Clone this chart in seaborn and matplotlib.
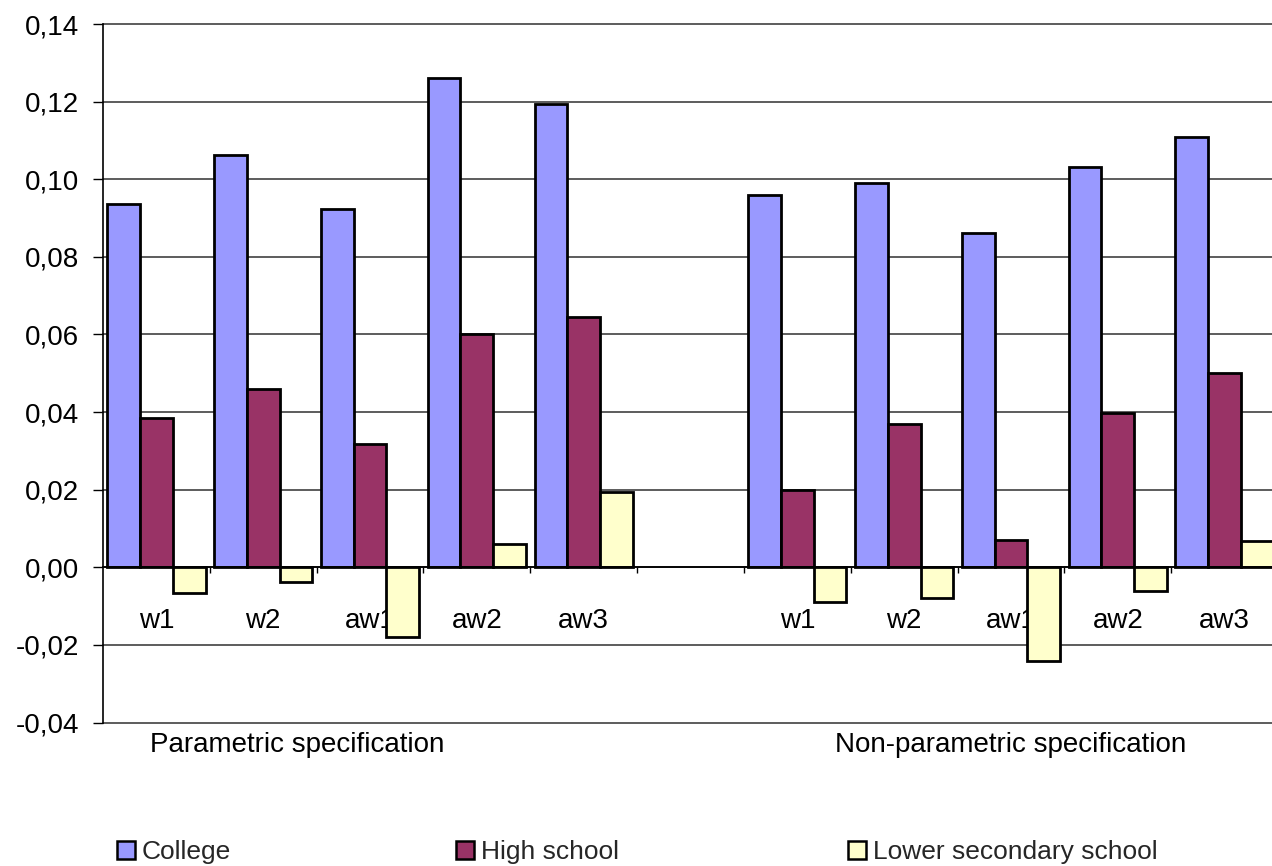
import matplotlib
matplotlib.use("Agg")
import matplotlib.pyplot as plt
from matplotlib.patches import Patch
import pandas as pd
import seaborn as sns

# ---- data -------------------------------------------------------------
categories = ["w1", "w2", "aw1", "aw2", "aw3"]
groups = ["Parametric specification", "Non-parametric specification"]
levels = ["College", "High school", "Lower secondary school"]

param_college = [0.0936, 0.1063, 0.0923, 0.1260, 0.1195]
param_high = [0.0386, 0.0459, 0.0317, 0.0600, 0.0644]
param_lower = [-0.0067, -0.0039, -0.0179, 0.0059, 0.0194]

nonpar_college = [0.0959, 0.0990, 0.0861, 0.1031, 0.1110]
nonpar_high = [0.0200, 0.0369, 0.0070, 0.0398, 0.0500]
nonpar_lower = [-0.0090, -0.0080, -0.0241, -0.0061, 0.0069]

yticks = [-0.04, -0.02, 0.00, 0.02, 0.04, 0.06, 0.08, 0.10, 0.12, 0.14]
ytick_labels = ["-0,04", "-0,02", "0,00", "0,02", "0,04", "0,06",
                "0,08", "0,10", "0,12", "0,14"]

colors = ["#9999FF", "#993366", "#FFFFCC"]

# ---- long-form table ----------------------------------------------------
rows = []
for prefix, series in (("P", (param_college, param_high, param_lower)),
                       ("N", (nonpar_college, nonpar_high, nonpar_lower))):
    for level, vals in zip(levels, series):
        for cat, v in zip(categories, vals):
            rows.append({"slot": f"{prefix} {cat}", "level": level, "value": v})
df = pd.DataFrame(rows)

order = [f"P {c}" for c in categories] + ["gap"] + [f"N {c}" for c in categories]
tick_text = categories + [""] + categories

# ---- figure -------------------------------------------------------------
sns.set_theme(style="white")
plt.rcParams["font.family"] = ["Liberation Sans", "DejaVu Sans"]

W, H = 1272, 866
fig = plt.figure(figsize=(W / 100, H / 100), dpi=100)
ax = fig.add_axes([103 / W, 1 - 722.6 / H, (1278 - 103) / W, (722.6 - 24) / H])

sns.barplot(data=df, x="slot", y="value", hue="level", order=order,
            hue_order=levels, palette=colors, width=0.92, gap=0,
            edgecolor="black", linewidth=2.0, saturation=1,
            legend=False, ax=ax, zorder=3)

ax.set_xlim(-0.5, 10.5)
ax.set_ylim(-0.04, 0.14)
ax.set_xlabel("")
ax.set_ylabel("")

# y axis
ax.set_yticks(yticks, ytick_labels)
ax.tick_params(axis="y", which="major", length=7, width=1, color="black",
               direction="out", pad=10, labelsize=20, labelcolor="black", left=True)
ax.yaxis.grid(True, color="#303030", linewidth=1.1, zorder=0)
for gl in ax.get_ygridlines():
    gl.set_clip_on(False)
ax.set_axisbelow(True)

# x axis sits on the zero line
for side in ("top", "right"):
    ax.spines[side].set_visible(False)
ax.spines["left"].set_color("black")
ax.spines["left"].set_linewidth(1.2)
ax.spines["bottom"].set_position(("data", 0))
ax.spines["bottom"].set_color("black")
ax.spines["bottom"].set_linewidth(1.3)
ax.spines["bottom"].set_zorder(4)

ax.set_xticks(range(len(order)), tick_text)
ax.set_xticks([i + 0.5 for i in range(len(order) - 1)], minor=True)
ax.tick_params(axis="x", which="major", length=0, pad=29.5, labelsize=20,
               labelcolor="black", bottom=True)
ax.tick_params(axis="x", which="minor", length=4.5, width=1, color="black",
               direction="out", bottom=True)

# group captions
fig.text(297 / W, 1 - 752 / H, groups[0], ha="center", va="baseline",
         fontsize=20, color="black")
fig.text(1011 / W, 1 - 752 / H, groups[1], ha="center", va="baseline",
         fontsize=20, color="black")

# legend entries spread across the bottom
legend_x = [117, 456, 848]
for lx, level, col in zip(legend_x, levels, colors):
    fig.legend(handles=[Patch(facecolor=col, edgecolor="black", linewidth=1.8)],
               labels=[level], loc="lower left", bbox_to_anchor=(lx / W, 0.002),
               frameon=False, borderpad=0, borderaxespad=0, handlelength=0.68,
               handleheight=0.7, handletextpad=0.25, fontsize=19)

fig.savefig("out.png", dpi=100)
